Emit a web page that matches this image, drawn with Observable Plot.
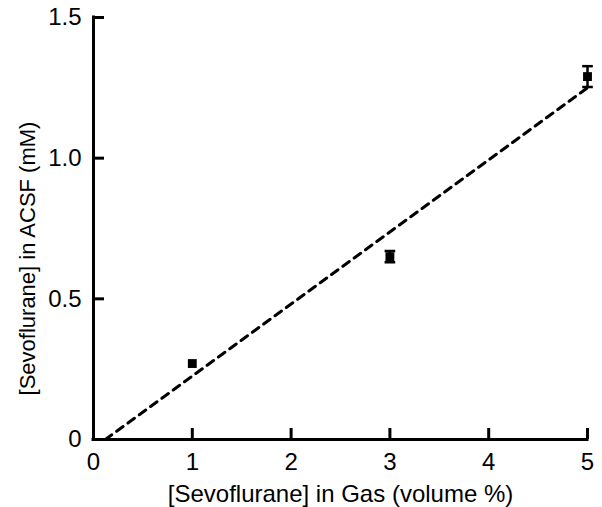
<!DOCTYPE html>
<html>
<head>
<meta charset="utf-8">
<script src="https://cdn.jsdelivr.net/npm/d3@7"></script>
<script src="https://cdn.jsdelivr.net/npm/@observablehq/plot@0.6"></script>
<style>
  html, body { margin: 0; padding: 0; background: #fff; }
  #chart svg { display: block; }
</style>
</head>
<body>
<div id="chart"></div>
<script>
// Data
const gasPercent = [1, 3, 5];
const acsfConc = [0.27, 0.65, 1.29];
const acsfErr = [0.0, 0.02, 0.037];
const fitX = [0.12, 5];
const fitY = [0, 1.25];
const xTicks = [0, 1, 2, 3, 4, 5];
const xTickLabels = ["0", "1", "2", "3", "4", "5"];
const yTicks = [0, 0.5, 1.0, 1.5];
const yTickLabels = ["0", "0.5", "1.0", "1.5"];
const xLabel = "[Sevoflurane] in Gas (volume %)";
const yLabel = "[Sevoflurane] in ACSF (mM)";

const points = gasPercent.map((x, i) => ({x, y: acsfConc[i], lo: acsfConc[i] - acsfErr[i], hi: acsfConc[i] + acsfErr[i], err: acsfErr[i]}));
const fit = fitX.map((x, i) => ({x, y: fitY[i]}));
const withErr = points.filter(d => d.err > 0);

const W = 602, H = 507, mL = 93, mR = 15, mT = 17, mB = 68;
const tickPx = 11;
const xDom = [0, 5], yDom = [0, 1.5];
// inward tick length converted from pixels into data units
const tickLenY = tickPx * (yDom[1] - yDom[0]) / (H - mT - mB);
const tickLenX = tickPx * (xDom[1] - xDom[0]) / (W - mL - mR);

const capSymbol = {
  draw(context, size) {
    const w = Math.sqrt(size) / 2;
    context.moveTo(-w, 0);
    context.lineTo(w, 0);
  }
};

const font = "Liberation Sans, Arial, Helvetica, sans-serif";

const chart = Plot.plot({
  width: W,
  height: H,
  marginLeft: mL,
  marginRight: mR,
  marginTop: mT,
  marginBottom: mB,
  style: {fontFamily: font, fontSize: "24px", color: "#000", background: "#fff", overflow: "visible"},
  x: {domain: xDom},
  y: {domain: yDom},
  marks: [
    Plot.axisX({ticks: xTicks, tickFormat: (d, i) => xTickLabels[i], tickSize: 0, tickPadding: 13, fontSize: 24, label: null}),
    Plot.axisY({ticks: yTicks, tickFormat: (d, i) => yTickLabels[i], tickSize: 0, tickPadding: 12, fontSize: 24, label: null}),
    Plot.ruleX(xTicks, {x: d => d, y1: 0, y2: tickLenY, stroke: "#000", strokeWidth: 3}),
    Plot.ruleY(yTicks, {y: d => d, x1: 0, x2: tickLenX, stroke: "#000", strokeWidth: 3}),
    Plot.ruleY([0], {stroke: "#000", strokeWidth: 3, strokeLinecap: "square"}),
    Plot.ruleX([0], {stroke: "#000", strokeWidth: 3, strokeLinecap: "square"}),
    Plot.text([xLabel], {frameAnchor: "bottom", textAnchor: "middle", dy: 55, lineAnchor: "middle", fontSize: 24, fill: "#000"}),
    Plot.text([yLabel], {frameAnchor: "left", textAnchor: "middle", dx: -66, dy: 30, rotate: -90, lineAnchor: "middle", fontSize: 22, fill: "#000"}),
    Plot.line(fit, {x: "x", y: "y", stroke: "#000", strokeWidth: 3, strokeDasharray: "8,6"}),
    Plot.ruleX(withErr, {x: "x", y1: "lo", y2: "hi", stroke: "#000", strokeWidth: 2.5}),
    Plot.dot(withErr, {x: "x", y: "lo", symbol: capSymbol, r: 6, stroke: "#000", strokeWidth: 2.5, fill: "none"}),
    Plot.dot(withErr, {x: "x", y: "hi", symbol: capSymbol, r: 6, stroke: "#000", strokeWidth: 2.5, fill: "none"}),
    Plot.dot(points, {x: "x", y: "y", symbol: "square", r: 5, fill: "#000", stroke: "none"})
  ]
});
document.getElementById("chart").appendChild(chart);
</script>
</body>
</html>
